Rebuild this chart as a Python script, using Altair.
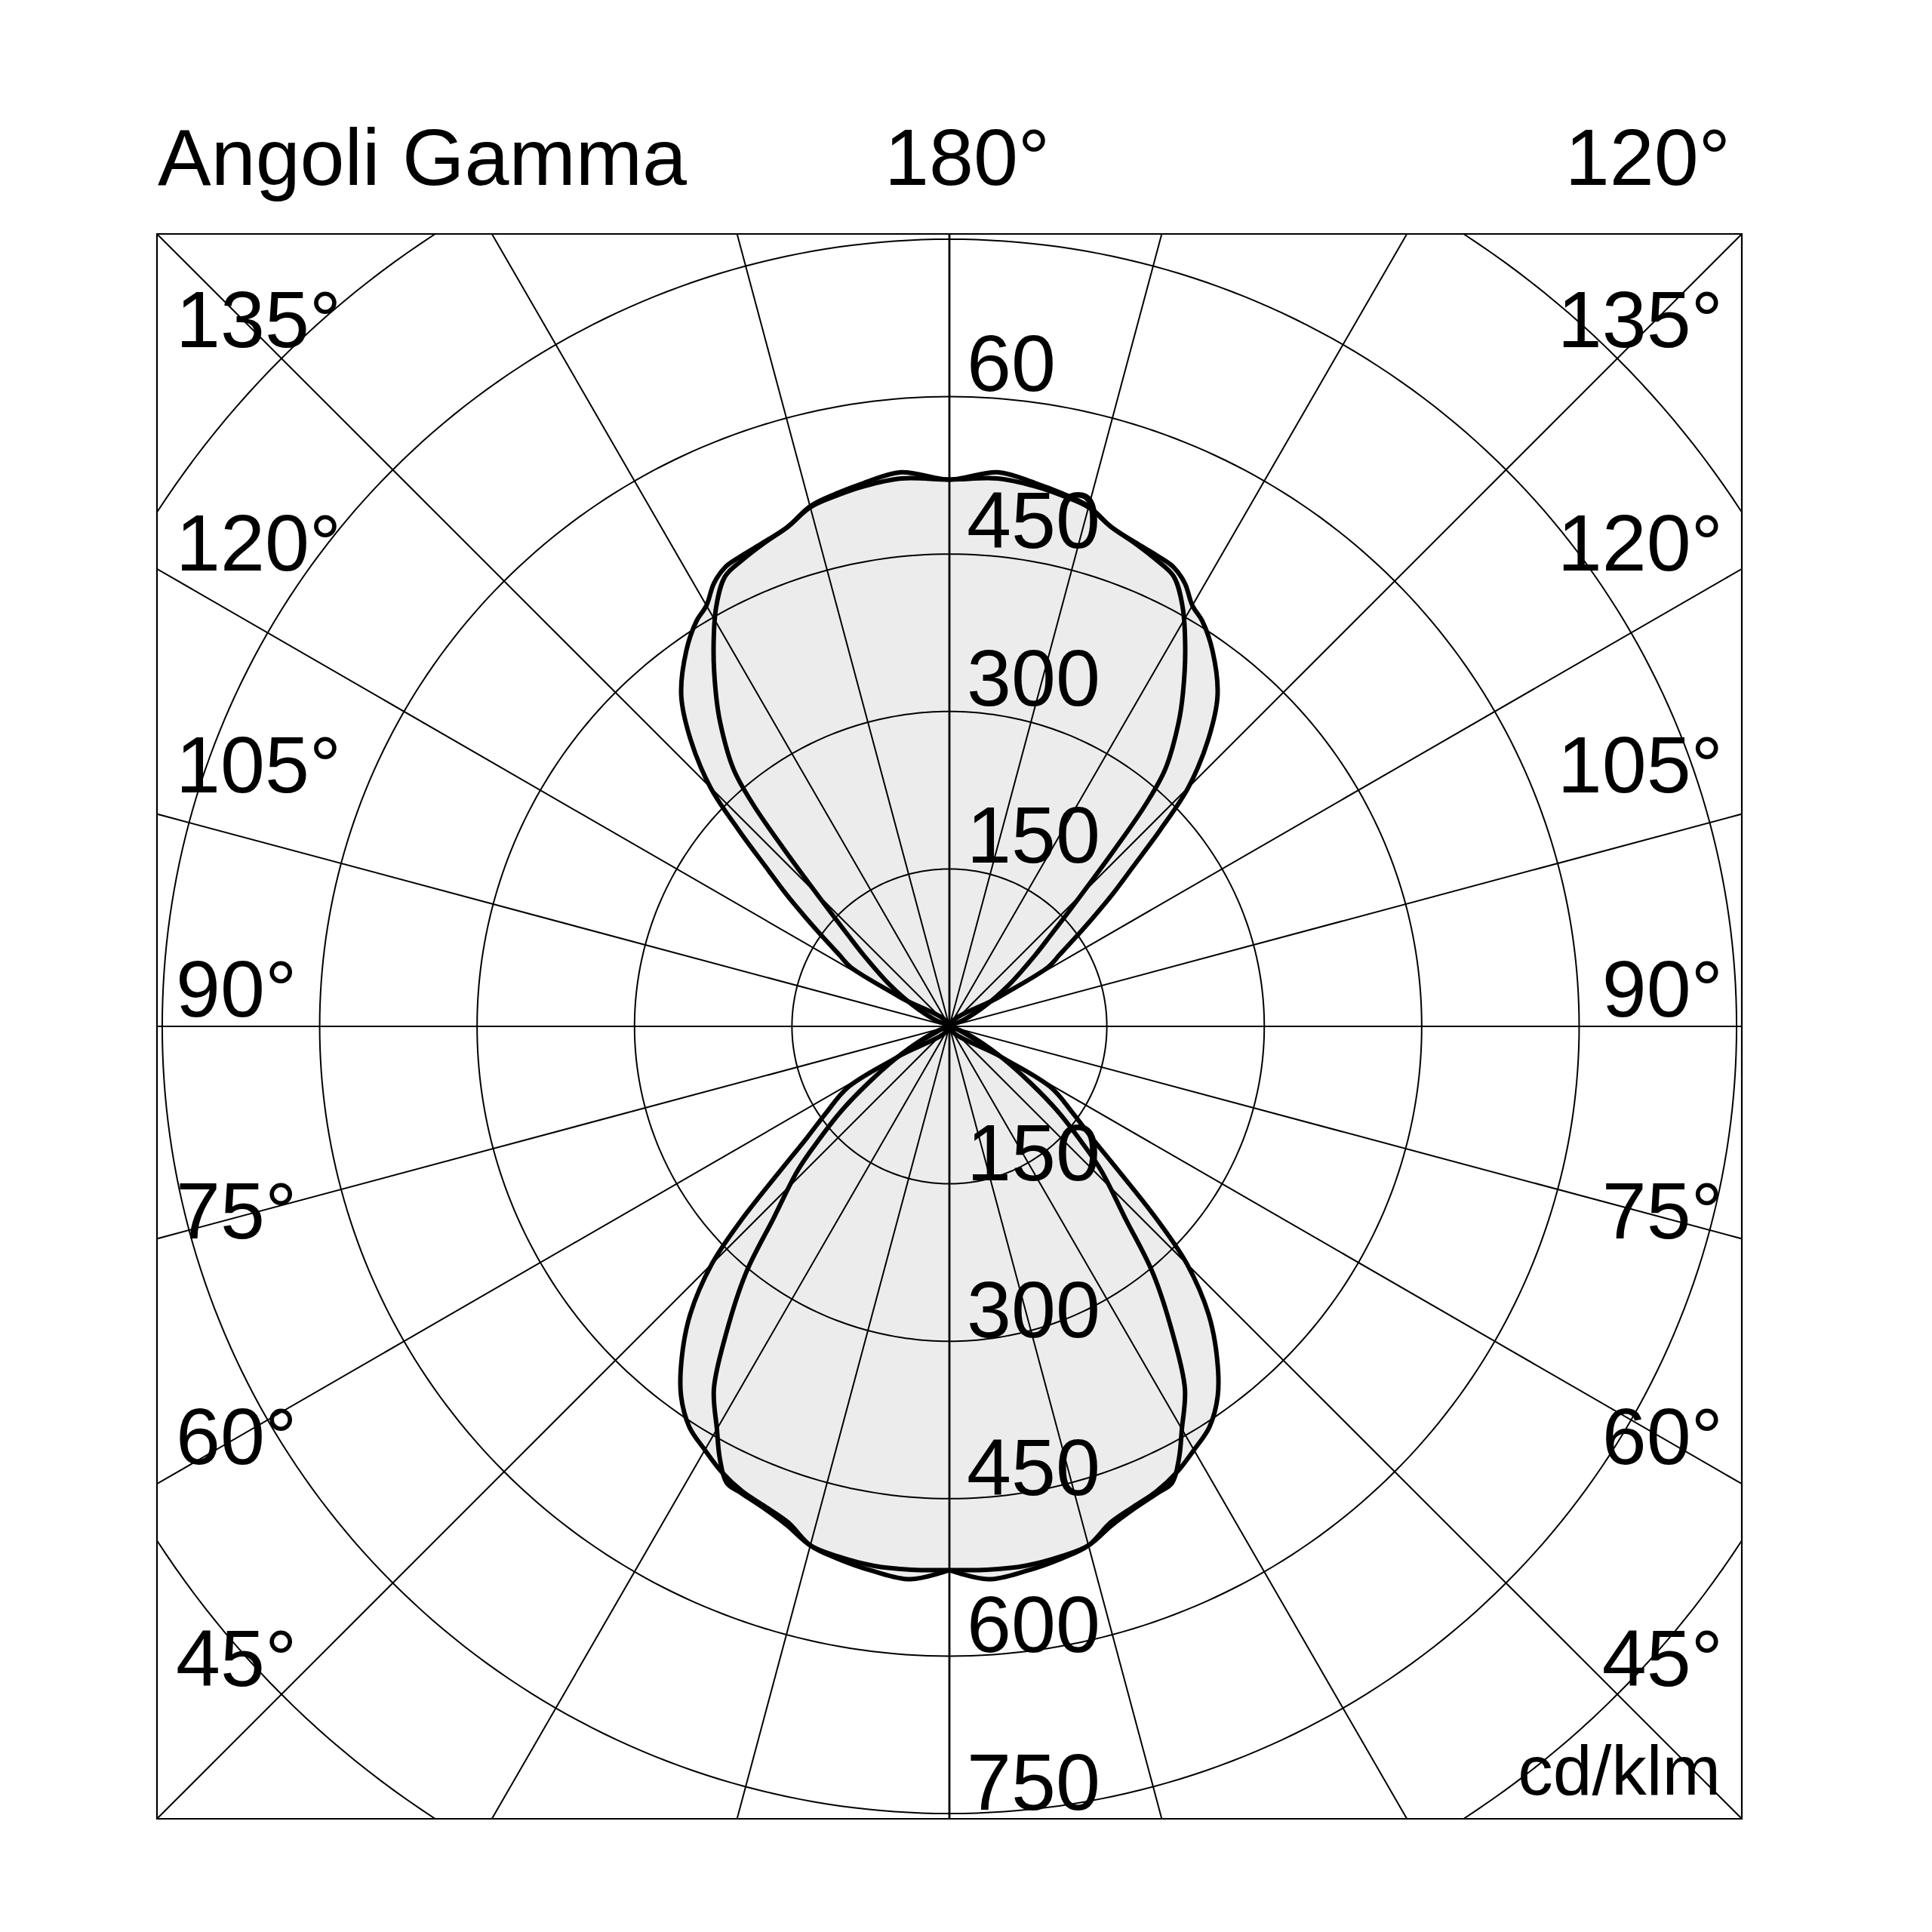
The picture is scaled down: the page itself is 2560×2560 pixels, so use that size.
import altair as alt
import pandas as pd
import numpy as np

# ---------------- data (cd/klm) ----------------
# Curve A (wider distribution)
# lower lobe: gamma measured from nadir (0 deg = straight down)
A_LOW_GAMMA = [0, 4, 8, 12, 15, 18, 21, 24, 27, 30, 33, 36, 39, 42, 45, 47, 49.5, 52, 55, 59, 59.5]
A_LOW_I = [518, 528, 524, 518, 512, 497, 490, 485, 477, 466, 455, 435, 405, 369, 320, 272, 212, 172, 143, 113, 57]
# upper lobe: angle measured from zenith (0 deg = gamma 180, straight up)
A_UP_ANGLE = [0, 5, 9, 12, 15, 18, 21, 24, 26, 28, 30, 32, 35, 39, 42, 45, 47, 49, 51, 53, 55, 57, 59, 59.4]
A_UP_I = [521, 530, 524, 519, 513, 500, 494, 490, 487, 478, 463, 455, 437, 406, 369, 322, 275, 232, 200, 170, 145, 125, 110, 55]

# Curve B (narrower distribution)
B_LOW_GAMMA = [0, 4, 8, 12, 15, 18, 21, 24, 26, 28, 30, 33, 36, 39.5, 42.5, 46.5, 49, 52, 55, 59, 64, 70]
B_LOW_I = [518, 519, 519, 516, 512, 500, 492, 487, 484, 466, 443, 412, 362, 305, 248, 199, 165, 130, 95, 60, 30, 10]
B_UP_ANGLE = [0, 5, 9, 12, 15, 18, 21, 24, 26.5, 29, 32, 35, 37, 40, 41.5, 43, 45.6, 48, 50.3, 55, 60, 66]
B_UP_I = [521, 524, 521, 517, 512, 500, 493, 486, 479, 458, 424, 388, 363, 320, 282, 232, 167, 130, 106, 70, 40, 15]

# grid
RING_VALUES = [150, 300, 450, 600, 750, 900]
RADIAL_STEP_ANGLES = [0, 15, 30, 45, 60, 75, 90, 105, 120, 135, 150, 165]

# labels
LOWER_RING_LABELS = ["150", "300", "450", "600", "750"]
LOWER_RING_VALUES = [150, 300, 450, 600, 750]
UPPER_RING_LABELS = ["150", "300", "450", "60"]
UPPER_RING_VALUES = [150, 300, 450, 600]
SIDE_LABELS = ["135°", "120°", "105°", "90°", "75°", "60°", "45°"]
HEADER_LEFT = "Angoli Gamma"
HEADER_MID = "180°"
HEADER_RIGHT = "120°"
UNIT_LABEL = "cd/klm"

# ---------------- layout ----------------
W = 2100
DOM = 755
FONT = "Liberation Sans"
FS = 106
SIDE_LABEL_Y_PX = [150, 446, 740, 1037, 1331, 1630, 1924]


def outline(low_g, low_i, up_a, up_i):
    right = list(zip(low_g, low_i)) + [(90, 0)] + [(180 - a, v) for a, v in reversed(list(zip(up_a, up_i)))]
    left = [(360 - p, v) for p, v in reversed(right[:-1])]
    pts = right + left
    return pd.DataFrame({"phi": [p for p, _ in pts], "r": [v for _, v in pts], "idx": range(len(pts))})


dA = outline(A_LOW_GAMMA, A_LOW_I, A_UP_ANGLE, A_UP_I)
dA["curve"] = "A"
dB = outline(B_LOW_GAMMA, B_LOW_I, B_UP_ANGLE, B_UP_I)
dB["curve"] = "B"
curves = pd.concat([dA, dB], ignore_index=True)

ring_angles = np.arange(0, 361, 1)
rings = pd.DataFrame([(r, a) for r in RING_VALUES for a in ring_angles], columns=["r", "phi"])

spokes = pd.DataFrame({"a": RADIAL_STEP_ANGLES})
spokes["w"] = [2.8 if a == 0 else 2.0 for a in RADIAL_STEP_ANGLES]

xs = alt.Scale(domain=[-DOM, DOM], nice=False, zero=False)
ys = alt.Scale(domain=[-DOM, DOM], nice=False, zero=False)

polar_calc = dict(
    x="datum.r * sin(datum.phi * PI / 180)",
    y="-datum.r * cos(datum.phi * PI / 180)",
)

fill_layer = alt.Chart(curves).transform_calculate(**polar_calc).mark_line(
    fill="#ececec", color="#ececec", strokeWidth=0.5, interpolate="catmull-rom"
).encode(
    x=alt.X("x:Q", scale=xs, axis=None),
    y=alt.Y("y:Q", scale=ys, axis=None),
    detail="curve:N",
    order=alt.Order("idx:Q"),
)

ring_layer = alt.Chart(rings).transform_calculate(**polar_calc).mark_line(
    color="#000000", strokeWidth=2.0, clip=True
).encode(
    x=alt.X("x:Q", scale=xs, axis=None),
    y=alt.Y("y:Q", scale=ys, axis=None),
    detail="r:N",
    order=alt.Order("phi:Q"),
)

spoke_layer = alt.Chart(spokes).transform_calculate(
    x="1300 * sin(datum.a * PI / 180)",
    y="1300 * cos(datum.a * PI / 180)",
    x2="-1300 * sin(datum.a * PI / 180)",
    y2="-1300 * cos(datum.a * PI / 180)",
).mark_rule(color="#000000", clip=True).encode(
    x=alt.X("x:Q", scale=xs, axis=None),
    y=alt.Y("y:Q", scale=ys, axis=None),
    x2="x2:Q",
    y2="y2:Q",
    strokeWidth=alt.StrokeWidth("w:Q", scale=None),
)

line_layer = alt.Chart(curves).transform_calculate(**polar_calc).mark_line(
    color="#000000", interpolate="catmull-rom", strokeJoin="round", strokeCap="round"
).encode(
    x=alt.X("x:Q", scale=xs, axis=None),
    y=alt.Y("y:Q", scale=ys, axis=None),
    detail="curve:N",
    order=alt.Order("idx:Q"),
    strokeWidth=alt.value(6),
)

lower_lab = alt.Chart(pd.DataFrame({"v": LOWER_RING_VALUES, "t": LOWER_RING_LABELS})).transform_calculate(
    y="-datum.v", x="0"
).mark_text(font=FONT, fontSize=FS, align="left", baseline="alphabetic", dx=23, dy=-5, color="#000").encode(
    x=alt.X("x:Q", scale=xs, axis=None), y=alt.Y("y:Q", scale=ys, axis=None), text="t:N"
)

upper_lab = alt.Chart(pd.DataFrame({"v": UPPER_RING_VALUES, "t": UPPER_RING_LABELS})).transform_calculate(
    y="datum.v", x="0"
).mark_text(font=FONT, fontSize=FS, align="left", baseline="alphabetic", dx=23, dy=-8, color="#000").encode(
    x=alt.X("x:Q", scale=xs, axis=None), y=alt.Y("y:Q", scale=ys, axis=None), text="t:N"
)

side_df = pd.DataFrame({"t": SIDE_LABELS, "py": SIDE_LABEL_Y_PX})
left_lab = alt.Chart(side_df).mark_text(
    font=FONT, fontSize=FS, align="left", baseline="alphabetic", color="#000"
).encode(x=alt.value(25), y=alt.Y("py:Q", scale=None), text="t:N")
right_lab = alt.Chart(side_df).mark_text(
    font=FONT, fontSize=FS, align="right", baseline="alphabetic", color="#000"
).encode(x=alt.value(W - 25), y=alt.Y("py:Q", scale=None), text="t:N")

hdr_df = pd.DataFrame({
    "t": [HEADER_LEFT, HEADER_MID],
    "px": [1, 964],
})
hdr_left = alt.Chart(hdr_df).mark_text(
    font=FONT, fontSize=FS, align="left", baseline="alphabetic", color="#000"
).encode(x=alt.X("px:Q", scale=None), y=alt.value(-65), text="t:N")
hdr_right = alt.Chart(pd.DataFrame({"t": [HEADER_RIGHT]})).mark_text(
    font=FONT, fontSize=FS, align="right", baseline="alphabetic", color="#000"
).encode(x=alt.value(W - 15), y=alt.value(-65), text="t:N")
unit_lab = alt.Chart(pd.DataFrame({"t": [UNIT_LABEL]})).mark_text(
    font=FONT, fontSize=93, align="right", baseline="alphabetic", color="#000"
).encode(x=alt.value(W - 28), y=alt.value(W - 32), text="t:N")

chart = alt.layer(
    fill_layer, ring_layer, spoke_layer, line_layer,
    lower_lab, upper_lab, left_lab, right_lab, hdr_left, hdr_right, unit_lab,
).properties(
    width=W, height=W,
    autosize=alt.AutoSizeParams(type="none"),
    padding={"left": 200, "top": 302, "right": 244, "bottom": 142},
    background="white",
).configure_view(stroke="#000000", strokeWidth=2.2)

chart.save("out.html", embed_options={"renderer": "svg", "actions": False})
